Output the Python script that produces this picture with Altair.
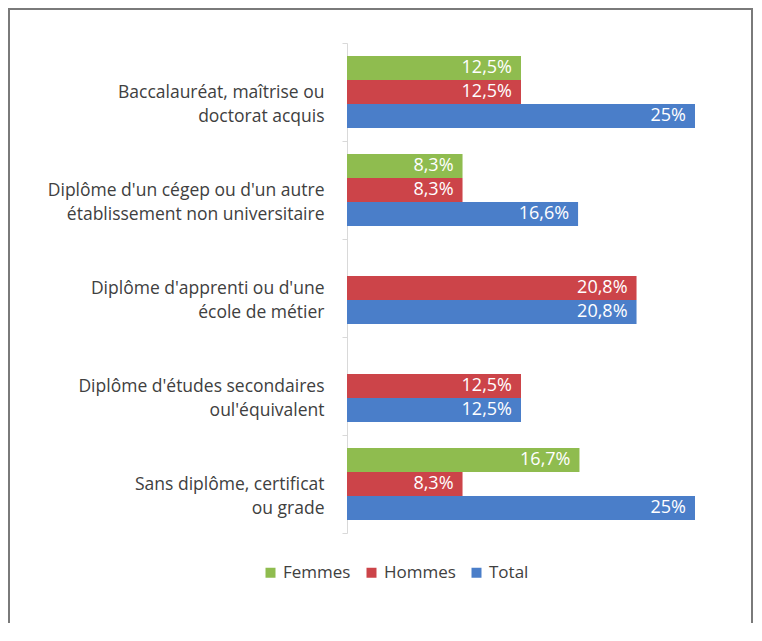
import altair as alt
import pandas as pd

categories = [
    "Baccalauréat, maîtrise ou|doctorat acquis",
    "Diplôme d'un cégep ou d'un autre|établissement non universitaire",
    "Diplôme d'apprenti ou d'une|école de métier",
    "Diplôme d'études secondaires|oul'équivalent",
    "Sans diplôme, certificat|ou grade",
]
series = ["Femmes", "Hommes", "Total"]
femmes = [12.5, 8.3, None, None, 16.7]
hommes = [12.5, 8.3, 20.8, 12.5, 8.3]
total = [25.0, 16.6, 20.8, 12.5, 25.0]
colors = ["#8fbc4f", "#cc4449", "#4a7ec9"]

rows = []
for s, vals in zip(series, [femmes, hommes, total]):
    for c, v in zip(categories, vals):
        if v is None:
            continue
        lab = (("%g" % v).replace(".", ",")) + "%"
        rows.append({"cat": c, "serie": s, "val": v, "lab": lab})
df = pd.DataFrame(rows)

FONT = "Open Sans"

y_enc = alt.Y(
    "cat:N",
    sort=categories,
    scale=alt.Scale(paddingInner=0, paddingOuter=0),
    axis=alt.Axis(
        title=None,
        labelExpr="split(datum.label, '|')",
        labelFont=FONT,
        labelFontSize=17.5,
        labelColor="#404040",
        labelLineHeight=24,
        labelPadding=18,
        labelLimit=400,
        tickSize=5,
        tickBand="extent",
        tickColor="#d9d9d9",
        domainColor="#d9d9d9",
        grid=False,
    ),
)
yoff_enc = alt.YOffset(
    "serie:N",
    sort=series,
    scale=alt.Scale(domain=series, paddingInner=0, paddingOuter=0.54),
)
x_enc = alt.X("val:Q", scale=alt.Scale(domain=[0, 25], nice=False), axis=None)

base = alt.Chart(df)
bars = base.mark_bar().encode(
    x=x_enc,
    y=y_enc,
    yOffset=yoff_enc,
    color=alt.Color(
        "serie:N",
        sort=series,
        scale=alt.Scale(domain=series, range=colors),
        legend=alt.Legend(
            title=None,
            orient="none",
            legendX=-85,
            legendY=521,
            direction="horizontal",
            symbolType="square",
            symbolSize=100,
            symbolStrokeWidth=0,
            labelFont=FONT,
            labelFontSize=17,
            labelColor="#404040",
            columnPadding=12,
            labelOffset=4,
        ),
    ),
)
texts = base.mark_text(
    align="right", baseline="middle", dx=-9, color="white", font=FONT, fontSize=18
).encode(x=x_enc, y=y_enc, yOffset=yoff_enc, text="lab:N")

frame = alt.Chart(pd.DataFrame({"a": [0]})).mark_rect(
    fill=None, stroke="#7a7a7a", strokeWidth=2
).encode(
    x=alt.value(-338), x2=alt.value(405), y=alt.value(-34), y2=alt.value(600)
)

chart = (
    alt.layer(frame, bars, texts)
    .properties(
        width=348,
        height=490,
        autosize=alt.AutoSizeParams(type="none"),
        padding={"left": 339, "top": 35, "right": 59, "bottom": 90},
    )
    .configure(background="white")
    .configure_view(stroke=None, strokeWidth=0)
)

chart.save("out.html", embed_options={"renderer": "svg", "actions": False})
